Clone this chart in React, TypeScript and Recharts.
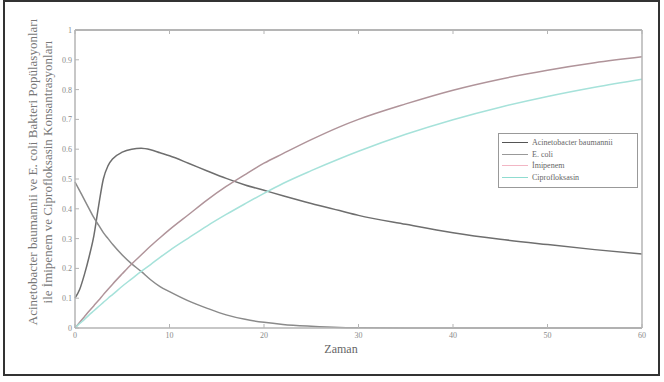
import { LineChart, Line, XAxis, YAxis } from "recharts";

// zaman noktaları ve okunan değerler
const zaman = [0, 0.5, 1, 1.5, 2, 2.5, 3, 3.5, 4, 5, 6, 7, 8, 9, 10, 12, 14, 16, 18, 20, 22, 25, 28, 30, 35, 40, 45, 50, 55, 60];
const acinetobacter = [0.1, 0.13, 0.18, 0.24, 0.31, 0.41, 0.5, 0.545, 0.568, 0.59, 0.6, 0.603, 0.598, 0.588, 0.578, 0.553, 0.527, 0.502, 0.48, 0.462, 0.444, 0.418, 0.394, 0.378, 0.348, 0.32, 0.298, 0.28, 0.263, 0.248];
const ecoli = [0.49, 0.46, 0.43, 0.4, 0.37, 0.345, 0.32, 0.3, 0.28, 0.245, 0.215, 0.19, 0.162, 0.139, 0.122, 0.091, 0.066, 0.044, 0.029, 0.019, 0.012, 0.006, 0.002, 0.001, 0, 0, 0, 0, 0, 0];
const imipenem = [0, 0.019, 0.038, 0.057, 0.075, 0.093, 0.112, 0.13, 0.148, 0.182, 0.215, 0.245, 0.275, 0.303, 0.33, 0.38, 0.43, 0.475, 0.515, 0.553, 0.585, 0.632, 0.675, 0.7, 0.752, 0.798, 0.835, 0.865, 0.89, 0.91];
const cipro = [0, 0.015, 0.029, 0.044, 0.058, 0.072, 0.086, 0.1, 0.113, 0.14, 0.165, 0.19, 0.213, 0.237, 0.26, 0.302, 0.343, 0.381, 0.417, 0.452, 0.485, 0.528, 0.568, 0.593, 0.65, 0.699, 0.741, 0.777, 0.808, 0.835];

const xTicks = [0, 10, 20, 30, 40, 50, 60];
const yTicks = [0, 0.1, 0.2, 0.3, 0.4, 0.5, 0.6, 0.7, 0.8, 0.9, 1];
const yLabels = ["0", "0.1", "0.2", "0.3", "0.4", "0.5", "0.6", "0.7", "0.8", "0.9", "1"];

const series = [
  { key: "Acinetobacter baumannii", values: acinetobacter, color: "#6e6e6e", legend: "#555" },
  { key: "E. coli", values: ecoli, color: "#8a8a8a", legend: "#999" },
  { key: "İmipenem", values: imipenem, color: "#b0949a", legend: "#f2b6c4" },
  { key: "Ciprofloksasin", values: cipro, color: "#a6e2da", legend: "#8fdcd0" },
];

const data = zaman.map((t, i) => {
  const row: Record<string, number> = { t };
  series.forEach((s) => (row[s.key] = s.values[i]));
  return row;
});

const FONT = "'Liberation Serif', 'DejaVu Serif', serif";
const AXIS = "#b5b5b5";
const TXT = "#8a8a8a";

const BottomTick = (p: any) => (
  <g>
    <line x1={p.x} y1={p.y} x2={p.x} y2={p.y - 4} stroke={AXIS} />
    <text x={p.x} y={p.y + 10} textAnchor="middle" fontSize={8} fill={TXT} fontFamily={FONT}>
      {p.payload.value}
    </text>
  </g>
);
const TopTick = (p: any) => (
  <line x1={p.x} y1={p.y} x2={p.x} y2={p.y + 4} stroke={AXIS} />
);
const LeftTick = (p: any) => (
  <g>
    <line x1={p.x} y1={p.y} x2={p.x + 4} y2={p.y} stroke={AXIS} />
    <text x={p.x - 3} y={p.y + 3} textAnchor="end" fontSize={8} fill={TXT} fontFamily={FONT}>
      {yLabels[p.index]}
    </text>
  </g>
);
const RightTick = (p: any) => (
  <line x1={p.x} y1={p.y} x2={p.x - 4} y2={p.y} stroke={AXIS} />
);

const LegendBox = () => (
  <div
    style={{
      position: "absolute",
      left: 498,
      top: 133,
      border: "1px solid #999",
      background: "#fff",
      width: 135,
      padding: "3px 0 4px 3px",
      fontFamily: FONT,
      fontSize: 8,
      color: "#666",
    }}
  >
    {series.map((s) => (
      <div key={s.key} style={{ display: "flex", alignItems: "center", height: 11.5 }}>
        <span style={{ display: "inline-block", width: 26, height: 0, borderTop: `1.5px solid ${s.legend}`, marginRight: 4 }} />
        {s.key}
      </div>
    ))}
  </div>
);

export default function App() {
  return (
    <div style={{ position: "absolute", left: 0, top: 0, width: 664, height: 382, background: "#fff" }}>
      <div
        style={{
          position: "absolute",
          left: 3,
          top: 0,
          width: 657,
          height: 376,
          border: "2px solid #333",
          boxSizing: "border-box",
        }}
      />
      <div style={{ position: "absolute", left: 0, top: 0 }}>
        <LineChart width={664} height={382} data={data} margin={{ top: 29, right: 21, bottom: 53, left: 74 }}>
          <XAxis
            dataKey="t"
            type="number"
            domain={[0, 60]}
            ticks={xTicks}
            height={1}
            tickSize={0}
            tickMargin={0}
            tickLine={false}
            tick={BottomTick}
            stroke={AXIS}
            strokeWidth={1.5}
            interval={0}
          />
          <XAxis
            xAxisId="top"
            orientation="top"
            dataKey="t"
            type="number"
            domain={[0, 60]}
            ticks={xTicks}
            height={1}
            tickSize={0}
            tickMargin={0}
            tickLine={false}
            tick={TopTick}
            stroke={AXIS}
            strokeWidth={2}
            interval={0}
          />
          <YAxis
            type="number"
            domain={[0, 1]}
            ticks={yTicks}
            width={1}
            tickSize={0}
            tickMargin={0}
            tickLine={false}
            tick={LeftTick}
            stroke={AXIS}
            strokeWidth={1.5}
            interval={0}
          />
          <YAxis
            yAxisId="right"
            orientation="right"
            type="number"
            domain={[0, 1]}
            ticks={yTicks}
            width={1}
            tickSize={0}
            tickMargin={0}
            tickLine={false}
            tick={RightTick}
            stroke={AXIS}
            strokeWidth={1.5}
            interval={0}
          />
          {series.map((s) => (
            <Line
              key={s.key}
              dataKey={s.key}
              type="monotone"
              stroke={s.color}
              strokeWidth={1.5}
              dot={false}
              isAnimationActive={false}
            />
          ))}
        </LineChart>
      </div>
      <LegendBox />
      <div
        style={{
          position: "absolute",
          left: 341,
          top: 342,
          transform: "translateX(-50%)",
          fontFamily: FONT,
          fontSize: 12,
          color: "#666",
        }}
      >
        Zaman
      </div>
      <div
        style={{
          position: "absolute",
          left: 40,
          top: 172,
          transform: "translate(-50%, -50%) rotate(-90deg)",
          fontFamily: FONT,
          fontSize: 13,
          lineHeight: "15px",
          color: "#777",
          textAlign: "center",
          whiteSpace: "nowrap",
        }}
      >
        Acinetobacter baumannii ve E. coli Bakteri Popülasyonları
        <br />
        ile İmipenem ve Ciprofloksasin Konsantrasyonları
      </div>
    </div>
  );
}
